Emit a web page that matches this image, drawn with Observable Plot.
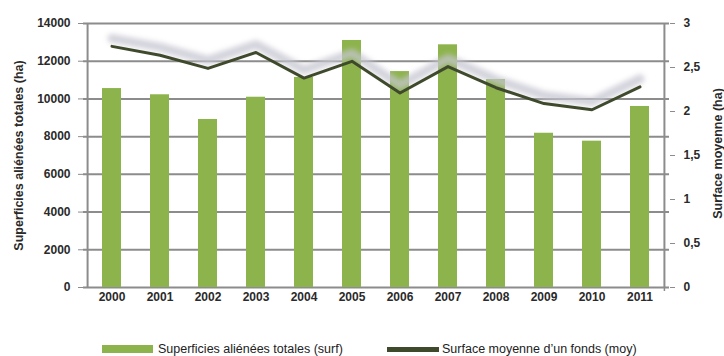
<!DOCTYPE html>
<html>
<head>
<meta charset="utf-8">
<script src="https://cdn.jsdelivr.net/npm/d3@7"></script>
<script src="https://cdn.jsdelivr.net/npm/@observablehq/plot@0.6"></script>
<style>
  html, body { margin: 0; padding: 0; background: #fff; }
  #wrap { position: relative; width: 724px; height: 356px; font-family: "Liberation Sans", Arial, sans-serif; }
  #legend { position: absolute; left: 0; top: 341px; width: 724px; height: 16px; font-size: 12.5px; color: #222; }
  .item { position: absolute; top: 0; display: flex; align-items: center; height: 16px; }
  .sw-bar { width: 51px; height: 8px; background: #8db34c; margin-right: 5px; }
  .sw-line { width: 52px; height: 5px; background: #3f4a2c; margin-right: 3px; }
</style>
</head>
<body>
<div id="wrap">
  <div id="chart"></div>
  <div id="legend">
    <div class="item" style="left:102px"><div class="sw-bar"></div><span>Superficies aliénées totales (surf)</span></div>
    <div class="item" style="left:387px"><div class="sw-line"></div><span>Surface moyenne d’un fonds (moy)</span></div>
  </div>
</div>
<script>
const years = ["2000","2001","2002","2003","2004","2005","2006","2007","2008","2009","2010","2011"];
const surf = [10550, 10220, 8910, 10090, 11140, 13100, 11450, 12870, 11030, 8180, 7760, 9600];
const moy = [2.74, 2.64, 2.49, 2.67, 2.38, 2.57, 2.21, 2.51, 2.27, 2.09, 2.02, 2.28];
const leftTicks = [0, 2000, 4000, 6000, 8000, 10000, 12000, 14000];
const rightTicks = [0, 0.5, 1, 1.5, 2, 2.5, 3];

const yMax = 14000, y2Max = 3;
const k = yMax / y2Max;
const data = years.map((y, i) => ({year: y, surf: surf[i], moy: moy[i] * k}));

const W = 724, H = 316;
const mL = 83, mR = 55, mT = 23, mB = 29;
const step = (W - mL - mR) / years.length;
const tickLen = 4 * yMax / (H - mT - mB);
const fontFam = "'Liberation Sans', Arial, sans-serif";
const SHADOW = "#c6c6d0";
const first = years[0], last = years[years.length - 1];

const chart = Plot.plot({
  width: W, height: H,
  marginLeft: mL, marginRight: mR, marginTop: mT, marginBottom: mB,
  style: {fontFamily: fontFam, fontSize: "12px", color: "#2a2a2a", background: "#fff"},
  x: {domain: years, paddingInner: 0.6, paddingOuter: 0.3, label: null},
  y: {domain: [0, yMax], label: null},
  marks: [
    Plot.ruleY(leftTicks, {stroke: "#8c8c8c", strokeWidth: 2}),
    Plot.barY(data, {x: "year", y: "surf", fill: "#8db34c"}),
    Plot.line(data, {x: "year", y: "moy", stroke: SHADOW, strokeWidth: 9, strokeOpacity: 0.75, dy: -8}),
    Plot.line(data, {x: "year", y: "moy", stroke: "#3f4a2c", strokeWidth: 3}),
    Plot.ruleX([first], {x: d => d, dx: -step / 2, y1: 0, y2: yMax, stroke: "#8c8c8c", strokeWidth: 2}),
    Plot.ruleX([last], {x: d => d, dx: step / 2, y1: 0, y2: yMax, stroke: "#8c8c8c", strokeWidth: 2}),
    Plot.axisY(leftTicks, {anchor: "left", tickSize: 5, tickPadding: 8, fontWeight: "bold", fontSize: 12, stroke: "#8c8c8c", label: null, tickFormat: d => String(d)}),
    Plot.axisY(rightTicks.map(v => v * k), {anchor: "right", tickSize: 5, tickPadding: 9, fontWeight: "bold", fontSize: 12, stroke: "#8c8c8c", label: null, tickFormat: v => String(Math.round(v / k * 10) / 10).replace(".", ",")}),
    Plot.axisX({tickSize: 0, tickPadding: 5, fontWeight: "bold", fontSize: 12, label: null}),
    Plot.ruleX(years, {x: "year", dx: -step / 2, y1: 0, y2: -tickLen, stroke: "#8c8c8c", strokeWidth: 1.5}),
    Plot.ruleX([last], {x: d => d, dx: step / 2, y1: 0, y2: -tickLen, stroke: "#8c8c8c", strokeWidth: 1.5}),
    Plot.text(["Superficies aliénées totales (ha)"], {frameAnchor: "left", textAnchor: "middle", dx: -65, rotate: -90, fontWeight: "bold", fontSize: 12.5, fill: "#2a2a2a"}),
    Plot.text(["Surface moyenne (ha)"], {frameAnchor: "right", textAnchor: "middle", dx: 48, dy: -2, rotate: -90, fontWeight: "bold", fontSize: 12.5, fill: "#2a2a2a"})
  ]
});
document.getElementById("chart").appendChild(chart);
// soften the shadow line
const svg = d3.select(chart);
const defs = svg.insert("defs", ":first-child");
defs.append("filter").attr("id", "shadowBlur")
  .attr("x", "-10%").attr("y", "-100%").attr("width", "120%").attr("height", "300%")
  .append("feGaussianBlur").attr("stdDeviation", 2.5);
svg.selectAll("g").filter(function() { return this.getAttribute("stroke") === SHADOW; })
  .attr("filter", "url(#shadowBlur)");
</script>
</body>
</html>
